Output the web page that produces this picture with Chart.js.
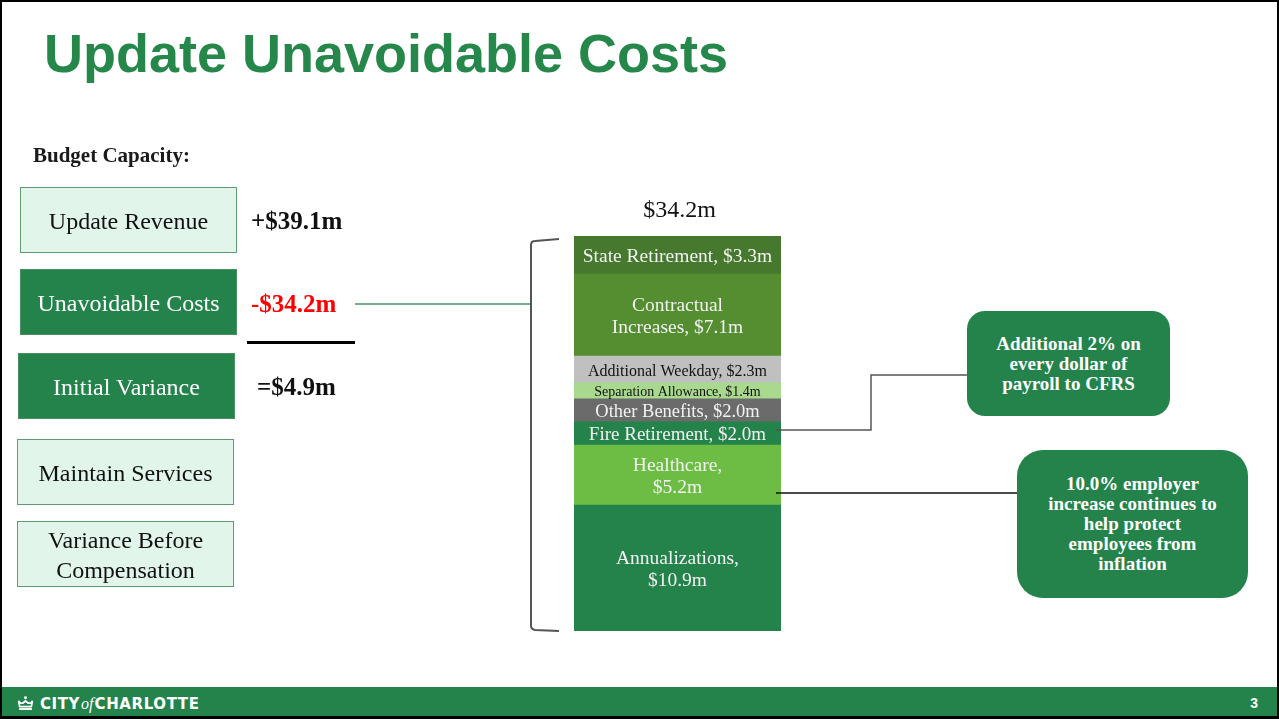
<!DOCTYPE html>
<html>
<head>
<meta charset="utf-8">
<script src="https://cdn.jsdelivr.net/npm/chart.js@4"></script>
<style>
  body { margin: 0; background: #fff; }
  #slide { position: relative; width: 1279px; height: 719px; overflow: hidden; background: #fff; }
  #frame { position: absolute; left: 0; top: 0; width: 1279px; height: 719px; box-sizing: border-box; border: 2px solid #000; border-bottom-width: 3px; z-index: 5; pointer-events: none; }
  #chart { position: absolute; left: 0; top: 0; z-index: 1; }
  .abs { position: absolute; z-index: 2; }
  .title { left: 44px; top: 26px; font: bold 54px "Liberation Sans", Arial, sans-serif; line-height: 54px; color: #26874a; white-space: nowrap; }
  .serif { font-family: "Liberation Serif", "Times New Roman", serif; }
  .box { display: flex; align-items: center; justify-content: center; text-align: center; box-sizing: border-box; width: 217px; height: 66px; padding-top: 2px; font-size: 24px; line-height: 30px; }
  .light { background: #e2f5ea; border: 1.5px solid #5f9c74; color: #111; }
  .dark { background: #23834b; border: 1.5px solid #4a8f63; color: #fff; }
  .val { font-weight: bold; font-size: 25px; line-height: 30px; height: 30px; white-space: nowrap; }
  .callout { background: #23834b; color: #fff; font-weight: bold; font-size: 19px; line-height: 20px; text-align: center; display: flex; align-items: center; justify-content: center; box-sizing: border-box; }
  #footer { position: absolute; left: 0; top: 687px; width: 1279px; height: 30px; background: #23834b; z-index: 3; }
  .logo { position: absolute; left: 17px; top: 8px; color: #fff; font: bold 15px "DejaVu Sans", sans-serif; letter-spacing: 0.6px; white-space: nowrap; line-height: 15px; }
  .logo i { font: italic 16px "Liberation Serif", serif; letter-spacing: 0; font-weight: normal; margin: 0 1px; }
  .page { position: absolute; right: 21px; top: 8px; color: #fff; font: bold 14px "Liberation Sans", sans-serif; }
</style>
</head>
<body>
<div id="slide">
  <div class="abs title">Update Unavoidable Costs</div>

  <div class="abs serif" style="left:33px; top:141px; font-weight:bold; font-size:21px; line-height:28px; color:#1a1a1a;">Budget Capacity:</div>

  <div class="abs serif box light" style="left:20px; top:187px;">Update Revenue</div>
  <div class="abs serif box dark" style="left:20px; top:269px;">Unavoidable Costs</div>
  <div class="abs serif box dark" style="left:18px; top:353px;">Initial Variance</div>
  <div class="abs serif box light" style="left:17px; top:439px;">Maintain Services</div>
  <div class="abs serif box light" style="left:17px; top:521px;">Variance Before<br>Compensation</div>

  <div class="abs serif val" style="left:251px; top:206px; color:#111;">+$39.1m</div>
  <div class="abs serif val" style="left:251px; top:289px; color:#ff0000;">-$34.2m</div>
  <div class="abs" style="left:247px; top:341px; width:108px; height:3px; background:#000;"></div>
  <div class="abs serif val" style="left:257px; top:372px; color:#111;">=$4.9m</div>

  <div class="abs serif callout" style="left:967px; top:311px; width:203px; height:105px; border-radius:18px;">Additional 2% on<br>every dollar of<br>payroll to CFRS</div>
  <div class="abs serif callout" style="left:1017px; top:450px; width:231px; height:148px; border-radius:26px;">10.0% employer<br>increase continues to<br>help protect<br>employees from<br>inflation</div>

  <canvas id="chart" width="1279" height="719"></canvas>

  <div id="footer">
    <div class="logo"><svg width="17" height="15" viewBox="0 0 16 14" style="vertical-align:-2px; margin-right:6px;">
      <circle cx="8" cy="1.6" r="1.4" fill="#fff"/>
      <path d="M1.5 4.5 Q4 9 8 4.5 Q12 9 14.5 4.5 L13.5 10 L2.5 10 Z" fill="none" stroke="#fff" stroke-width="1.6"/>
      <rect x="2" y="11.3" width="12" height="1.8" fill="#fff"/>
    </svg>CITY<i>of</i>CHARLOTTE</div>
    <div class="page">3</div>
  </div>
  <div id="frame"></div>
</div>

<script>
// stacked from the bottom up
const segmentNames = ['Annualizations', 'Healthcare', 'Fire Retirement', 'Other Benefits',
  'Separation Allowance', 'Additional Weekday', 'Contractual Increases', 'State Retirement'];
const segmentValues = [10.9, 5.2, 2.0, 2.0, 1.4, 2.3, 7.1, 3.3];
const labelLines = [
  ['Annualizations,', '$10.9m'],
  ['Healthcare,', '$5.2m'],
  ['Fire Retirement, $2.0m'],
  ['Other Benefits, $2.0m'],
  ['Separation Allowance, $1.4m'],
  ['Additional Weekday, $2.3m'],
  ['Contractual', 'Increases, $7.1m'],
  ['State Retirement, $3.3m']
];
const totalCost = segmentValues.reduce((a, b) => a + b, 0);

const segmentColors = ['#23834b', '#6dbd45', '#23834b', '#6b6b6b', '#a9d88f', '#c0c0c0', '#548e31', '#46782e'];
const labelInk = ['#f2f2f2', '#f2f2f2', '#f2f2f2', '#f2f2f2', '#111', '#111', '#f2f2f2', '#f2f2f2'];
const labelPx = [19.5, 19.5, 19, 18.5, 14, 16, 19.5, 19.5];

const serif = '"Liberation Serif", "Times New Roman", serif';

const costLabels = {
  id: 'costLabels',
  afterDatasetsDraw(chart) {
    const ctx = chart.ctx;
    const area = chart.chartArea;
    const bars = chart.data.datasets.map((ds, i) => chart.getDatasetMeta(i).data[0]);

    ctx.save();
    ctx.textAlign = 'center';
    ctx.textBaseline = 'middle';
    bars.forEach((bar, i) => {
      const mid = (bar.y + bar.base) / 2 + 2;
      const lines = labelLines[i];
      ctx.font = labelPx[i] + 'px ' + serif;
      ctx.fillStyle = labelInk[i];
      lines.forEach((t, k) => {
        ctx.fillText(t, bar.x, mid + (k - (lines.length - 1) / 2) * 22);
      });
    });

    // total above the stack
    const top = chart.scales.y.getPixelForValue(totalCost);
    ctx.font = '24px ' + serif;
    ctx.fillStyle = '#111';
    ctx.fillText('$' + totalCost.toFixed(1) + 'm', bars[0].x + 2, top - 25);

    // bracket on the left
    const bx = area.left - 43;
    ctx.strokeStyle = '#555';
    ctx.lineWidth = 2;
    ctx.beginPath();
    ctx.moveTo(area.left - 15, top + 3);
    ctx.lineTo(bx + 4, top + 5);
    ctx.quadraticCurveTo(bx, top + 5, bx, top + 9);
    ctx.lineTo(bx, area.bottom - 5);
    ctx.quadraticCurveTo(bx, area.bottom - 2, bx + 4, area.bottom - 1);
    ctx.lineTo(area.left - 15, area.bottom);
    ctx.stroke();

    // link from the costs row
    ctx.strokeStyle = '#74b08a';
    ctx.lineWidth = 2;
    ctx.beginPath();
    ctx.moveTo(355, 304);
    ctx.lineTo(bx - 1, 304);
    ctx.stroke();

    // connectors to the callouts
    const fire = bars[2];
    const fy = fire.y + (fire.base - fire.y) * 0.35;
    ctx.strokeStyle = '#555';
    ctx.lineWidth = 1.5;
    ctx.beginPath();
    ctx.moveTo(area.right - 5, fy);
    ctx.lineTo(871, fy);
    ctx.lineTo(871, 375);
    ctx.lineTo(967, 375);
    ctx.stroke();

    const health = bars[1];
    const hy = health.y + (health.base - health.y) * 0.8;
    ctx.strokeStyle = '#111';
    ctx.beginPath();
    ctx.moveTo(area.right - 5, hy);
    ctx.lineTo(1017, hy);
    ctx.stroke();
    ctx.restore();
  }
};

const data = {
  labels: ['Unavoidable Costs'],
  datasets: segmentNames.map((name, i) => ({
    label: name,
    data: [segmentValues[i]],
    backgroundColor: segmentColors[i],
    borderWidth: 0,
    barPercentage: 1,
    categoryPercentage: 1
  }))
};

const config = {
  type: 'bar',
  data: data,
  plugins: [costLabels],
  options: {
    responsive: false,
    animation: false,
    devicePixelRatio: 1,
    layout: {
      padding: { left: 574, right: 498, top: 236, bottom: 88 }
    },
    scales: {
      x: { stacked: true, display: false },
      y: { stacked: true, display: false, min: 0, max: totalCost }
    },
    plugins: {
      legend: { display: false },
      tooltip: { enabled: false }
    }
  }
};

new Chart(document.getElementById('chart'), config);
</script>
</body>
</html>
